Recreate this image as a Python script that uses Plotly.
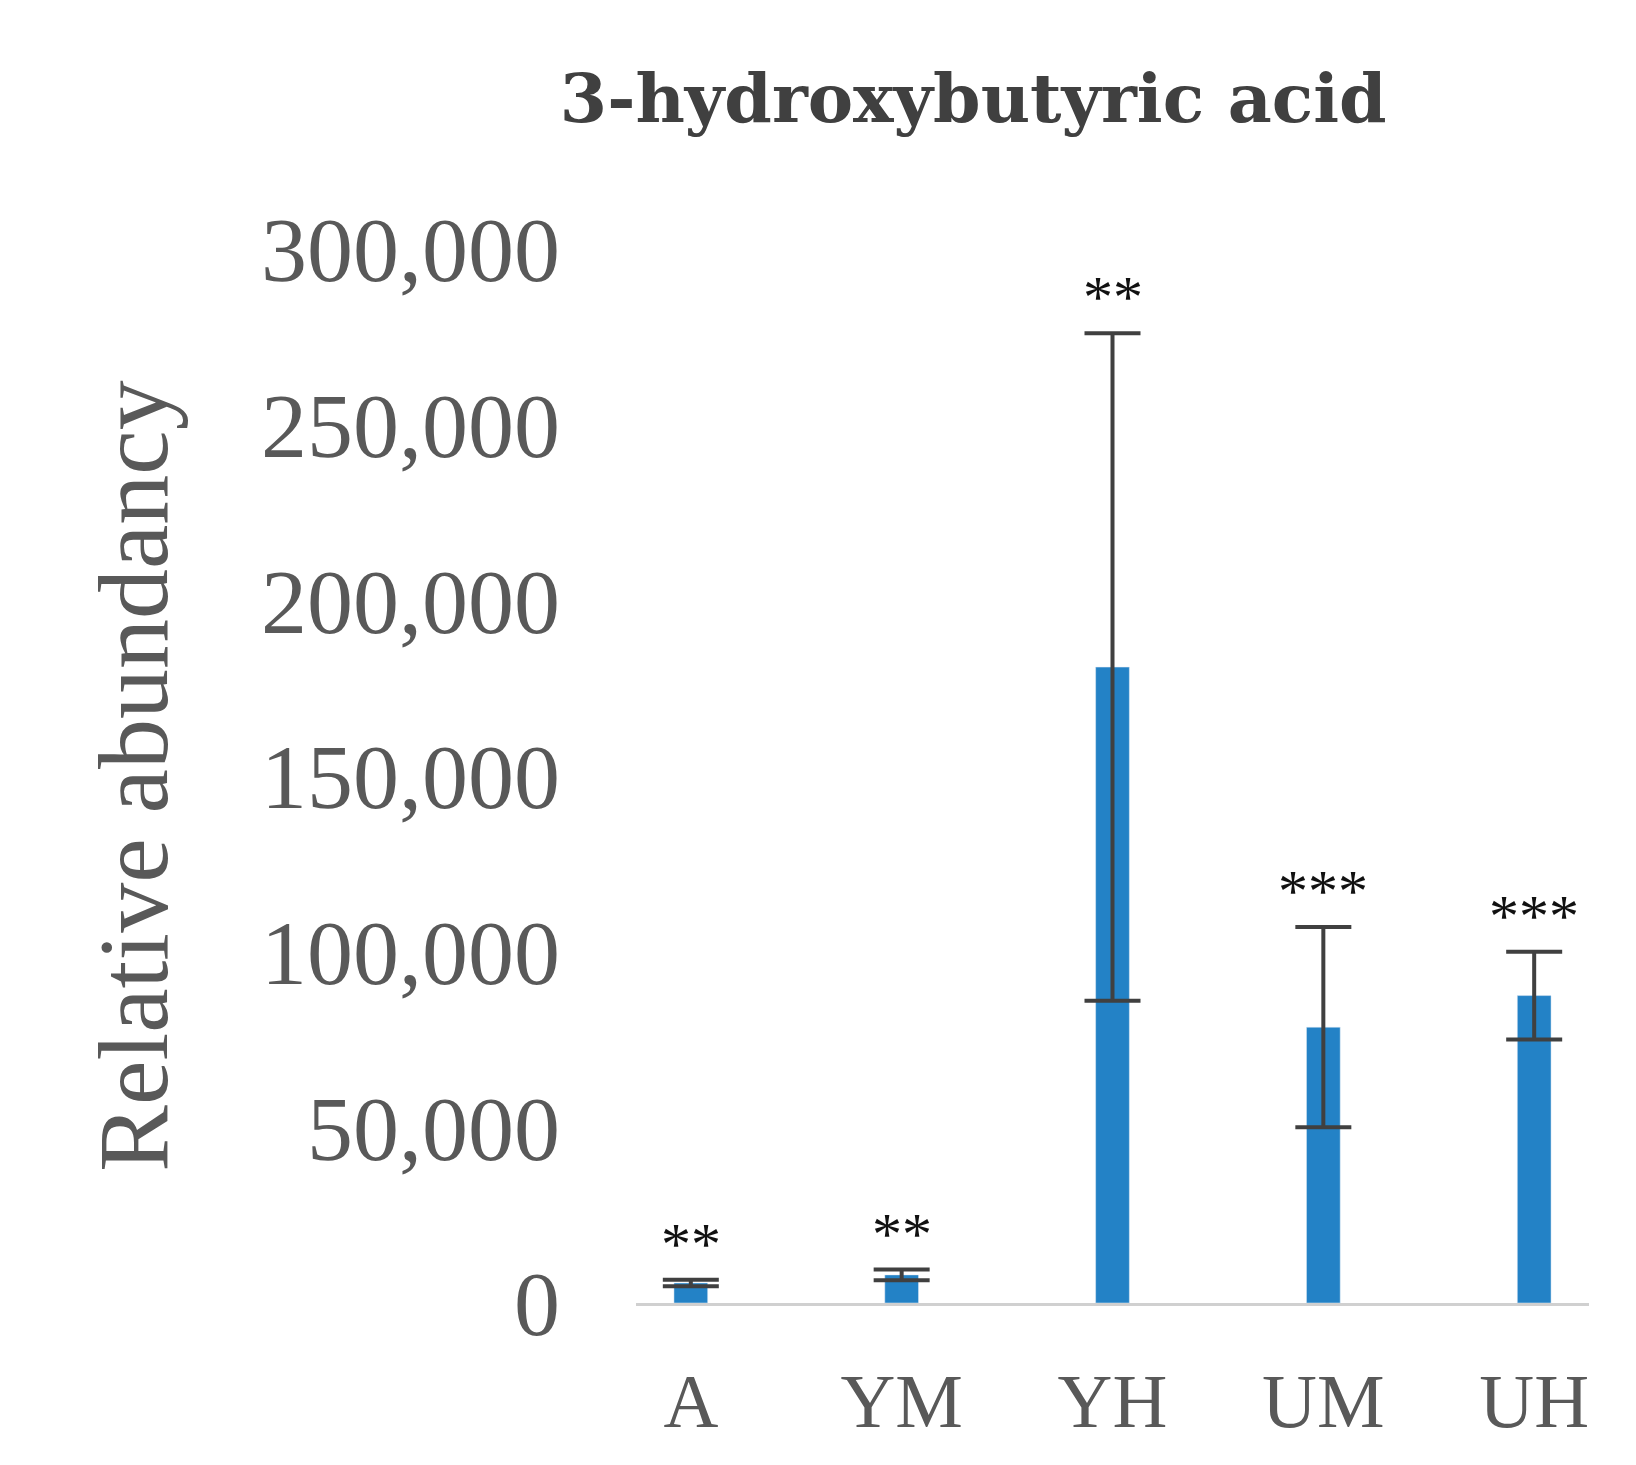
import plotly.graph_objects as go

categories = ["A", "YM", "YH", "UM", "UH"]
values = [5700, 8000, 181000, 78500, 87500]
errors = [900, 1500, 95000, 28500, 12500]
stars = ["**", "**", "**", "***", "***"]
tick_vals = [0, 50000, 100000, 150000, 200000, 250000, 300000]
tick_text = ["0", "50,000", "100,000", "150,000", "200,000", "250,000", "300,000"]

fig = go.Figure(go.Bar(
    x=categories, y=values, width=0.16, marker_color="#2382c6",
    error_y=dict(type="data", array=errors, color="#404040", thickness=4, width=28),
))
for c, v, e, s in zip(categories, values, errors, stars):
    fig.add_annotation(x=c, y=v + e, text=s, showarrow=False, yshift=36,
                       font=dict(family="Liberation Serif", size=60, color="#111"))

fig.update_layout(
    width=1636, height=1465, plot_bgcolor="white", paper_bgcolor="white",
    margin=dict(l=628, r=55, t=241, b=170), showlegend=False,
    title=dict(text="<b>3-hydroxybutyric acid</b>", x=0.59, xanchor="center", y=0.955,
               font=dict(family="DejaVu Serif", size=68, color="#404040")),
    font=dict(family="Liberation Serif", color="#595959"),
)
fig.update_xaxes(range=[-0.26, 4.26], showline=True, linecolor="#d0d0d0", linewidth=3,
                 tickfont=dict(size=76, color="#595959"), ticks="", ticklabelstandoff=30)
fig.update_yaxes(range=[0, 300000], tickvals=tick_vals, ticktext=tick_text, showgrid=False,
                 zeroline=False, tickfont=dict(size=92, color="#595959"), ticklabelstandoff=75,
                 title=dict(text="Relative abundancy", font=dict(size=100, color="#595959"), standoff=60))
fig.write_html("out.html")
